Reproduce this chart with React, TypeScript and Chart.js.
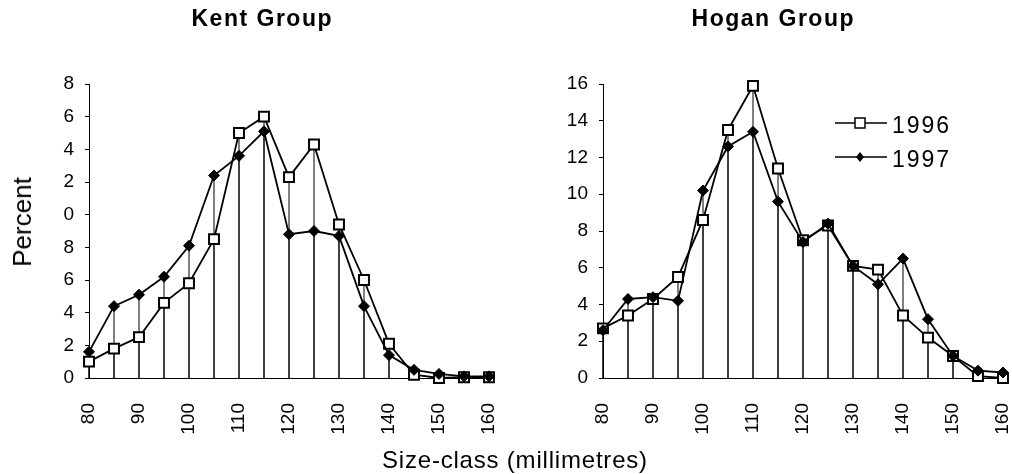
import { useEffect, useRef } from "react";
import { Chart, registerables } from "chart.js";

Chart.register(...registerables);

// Size classes (mm), one category every 5 mm
const sizeClasses = ["80", "85", "90", "95", "100", "105", "110", "115", "120", "125", "130", "135", "140", "145", "150", "155", "160"];
// Labelled size classes on the category axis
const sizeClassTicks = ["80", "90", "100", "110", "120", "130", "140", "150", "160"];

// Kent Group, percent of catch per size class
const kent1996 = [1.0, 1.8, 2.5, 4.6, 5.8, 8.5, 15.0, 16.0, 12.3, 14.3, 9.4, 6.0, 2.1, 0.2, 0.0, 0.05, 0.05];
const kent1997 = [1.6, 4.4, 5.1, 6.2, 8.1, 12.4, 13.6, 15.1, 8.8, 9.0, 8.7, 4.4, 1.4, 0.5, 0.25, 0.1, 0.1];

// Hogan Group, percent of catch per size class
const hogan1996 = [2.7, 3.4, 4.3, 5.5, 8.6, 13.5, 15.9, 11.4, 7.5, 8.3, 6.1, 5.9, 3.4, 2.2, 1.2, 0.1, 0.0];
const hogan1997 = [2.6, 4.3, 4.4, 4.2, 10.2, 12.6, 13.4, 9.6, 7.4, 8.4, 6.1, 5.1, 6.5, 3.2, 1.2, 0.4, 0.3];

// Percent axis labels (Kent axis shows only the final digit)
const kentPercentTicks = ["0", "2", "4", "6", "8", "0", "2", "4", "6", "8"];
const hoganPercentTicks = ["0", "2", "4", "6", "8", "10", "12", "14", "16"];

const seriesLabels = ["1996", "1997"];

const FONT = "'Liberation Sans', Arial, Helvetica, sans-serif";

// Vertical lines from each point down to the zero line
const dropLines = {
  id: "dropLines",
  beforeDatasetsDraw(chart: any) {
    const { ctx } = chart;
    const y = chart.scales.y;
    const base = y.getPixelForValue(0);
    ctx.save();
    ctx.strokeStyle = "#000";
    ctx.lineWidth = 1;
    chart.data.datasets.forEach((_ds: any, di: number) => {
      const meta = chart.getDatasetMeta(di);
      meta.data.forEach((pt: any) => {
        ctx.beginPath();
        ctx.moveTo(pt.x, base);
        ctx.lineTo(pt.x, pt.y);
        ctx.stroke();
      });
    });
    ctx.restore();
  },
};

// Series key: short line with the series marker, then the year
const seriesKey = {
  id: "seriesKey",
  afterDatasetsDraw(chart: any) {
    const { ctx, chartArea } = chart;
    ctx.save();
    chart.data.datasets.forEach((ds: any, i: number) => {
      const yLine = chartArea.top + 39 + i * 34;
      const x0 = chartArea.left + 232;
      const x1 = x0 + 52;
      const cx = (x0 + x1) / 2 - 1;
      ctx.strokeStyle = "#000";
      ctx.lineWidth = 1.5;
      ctx.beginPath();
      ctx.moveTo(x0, yLine);
      ctx.lineTo(x1, yLine);
      ctx.stroke();
      if (ds.pointStyle === "rect") {
        ctx.fillStyle = "#fff";
        ctx.fillRect(cx - 5, yLine - 5, 10, 10);
        ctx.strokeRect(cx - 5, yLine - 5, 10, 10);
      } else {
        ctx.fillStyle = "#000";
        ctx.beginPath();
        ctx.moveTo(cx, yLine - 5);
        ctx.lineTo(cx + 4, yLine);
        ctx.lineTo(cx, yLine + 5);
        ctx.lineTo(cx - 4, yLine);
        ctx.closePath();
        ctx.fill();
      }
      ctx.fillStyle = "#000";
      ctx.font = `23px ${FONT}`;
      (ctx as any).letterSpacing = "2px";
      ctx.textAlign = "left";
      ctx.textBaseline = "middle";
      ctx.fillText(ds.label, chartArea.left + 289, yLine + 3.5);
    });
    ctx.restore();
  },
};

function makeDatasets(v1996: number[], v1997: number[]) {
  return [
    {
      label: seriesLabels[0],
      data: v1996,
      borderColor: "#000",
      borderWidth: 1.8,
      pointStyle: "rect",
      pointRadius: 7,
      pointBorderWidth: 2,
      pointBorderColor: "#000",
      pointBackgroundColor: "#fff",
      tension: 0,
      clip: false as const,
      order: 1,
    },
    {
      label: seriesLabels[1],
      data: v1997,
      borderColor: "#000",
      borderWidth: 1.8,
      pointStyle: "rectRot",
      pointRadius: 5.5,
      pointBorderWidth: 1,
      pointBorderColor: "#000",
      pointBackgroundColor: "#000",
      tension: 0,
      clip: false as const,
      order: 0,
    },
  ];
}

function makeConfig(
  v1996: number[],
  v1997: number[],
  yMax: number,
  yLabels: string[],
  yWidth: number,
  padRight: number,
  withKey: boolean
): any {
  return {
    type: "line",
    data: { labels: sizeClasses, datasets: makeDatasets(v1996, v1997) },
    plugins: withKey ? [dropLines, seriesKey] : [dropLines],
    options: {
      animation: false,
      responsive: false,
      events: [],
      layout: { padding: { left: 0, right: padRight, top: 84, bottom: 0 } },
      plugins: { legend: { display: false }, title: { display: false }, tooltip: { enabled: false } },
      scales: {
        x: {
          type: "category",
          offset: false,
          grid: { display: false },
          border: { display: true, color: "#000", width: 1 },
          afterFit: (s: any) => {
            s.height = 96;
            s.paddingLeft = 0;
            s.paddingRight = 0;
          },
          ticks: {
            autoSkip: false,
            minRotation: 90,
            maxRotation: 90,
            padding: 17,
            color: "#000",
            font: { family: FONT, size: 19 },
            callback: function (this: any, val: any) {
              const l = this.getLabelForValue(val);
              return sizeClassTicks.includes(l) ? l : "";
            },
          },
        },
        y: {
          min: 0,
          max: yMax,
          grid: { display: true, drawOnChartArea: false, drawTicks: true, tickLength: 4, color: "#000" },
          border: { display: true, color: "#000", width: 1 },
          afterFit: (s: any) => {
            s.width = yWidth;
          },
          ticks: {
            stepSize: 2,
            padding: 11,
            color: "#000",
            font: { family: FONT, size: 19 },
            callback: (_v: any, i: number) => yLabels[i],
          },
        },
      },
    },
  };
}

const textBase: React.CSSProperties = {
  position: "absolute",
  fontFamily: FONT,
  color: "#000",
  lineHeight: 1,
  whiteSpace: "nowrap",
};

export default function App() {
  const kentRef = useRef<HTMLCanvasElement>(null);
  const hoganRef = useRef<HTMLCanvasElement>(null);

  useEffect(() => {
    const kent = new Chart(kentRef.current!, makeConfig(kent1996, kent1997, 18, kentPercentTicks, 89, 17, false));
    const hogan = new Chart(hoganRef.current!, makeConfig(hogan1996, hogan1997, 16, hoganPercentTicks, 97, 9, true));
    return () => {
      kent.destroy();
      hogan.destroy();
    };
  }, []);

  return (
    <div style={{ position: "fixed", left: 0, top: 0, width: 1012, height: 474, background: "#fff", overflow: "hidden" }}>
      <canvas ref={kentRef} width={506} height={474} style={{ position: "absolute", left: 0, top: 0, width: 506, height: 474 }} />
      <canvas ref={hoganRef} width={506} height={474} style={{ position: "absolute", left: 506, top: 0, width: 506, height: 474 }} />
      <div style={{ ...textBase, left: 191.5, top: 7.2, fontSize: 23, fontWeight: "bold", letterSpacing: "1.5px" }}>Kent Group</div>
      <div style={{ ...textBase, left: 691.6, top: 7.2, fontSize: 23, fontWeight: "bold", letterSpacing: "1.5px" }}>Hogan Group</div>
      <div style={{ ...textBase, left: 21.7, top: 221.7, fontSize: 26, transform: "translate(-50%, -50%) rotate(-90deg)" }}>Percent</div>
      <div style={{ ...textBase, left: 382, top: 447.7, fontSize: 24, letterSpacing: "0.8px" }}>Size-class (millimetres)</div>
    </div>
  );
}
